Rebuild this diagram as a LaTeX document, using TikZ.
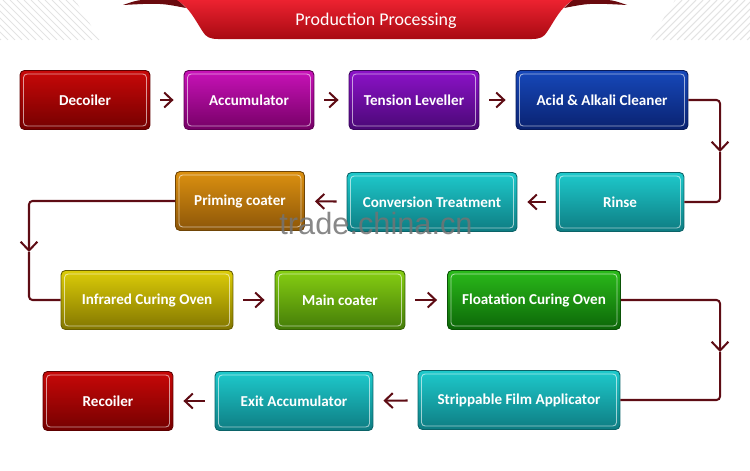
\documentclass[tikz,border=0pt]{standalone}
\usepackage{fontspec}
\setmainfont{Carlito}
\newfontfamily\markfont{Liberation Sans}
\usetikzlibrary{arrows.meta, positioning}
\definecolor{linkred}{HTML}{5E0C14}
\definecolor{bannertop}{HTML}{EC2230}
\definecolor{bannerbot}{HTML}{A80A12}
\definecolor{tailred}{HTML}{6A0A0E}
\definecolor{redtop}{HTML}{C80808}
\definecolor{redbot}{HTML}{740000}
\definecolor{magtop}{HTML}{C812B8}
\definecolor{magbot}{HTML}{760066}
\definecolor{purtop}{HTML}{8C12C8}
\definecolor{purbot}{HTML}{4A0876}
\definecolor{blutop}{HTML}{1648BA}
\definecolor{blubot}{HTML}{0A2270}
\definecolor{teatop}{HTML}{1ECACC}
\definecolor{teabot}{HTML}{0E7C82}
\definecolor{orntop}{HTML}{DC9010}
\definecolor{ornbot}{HTML}{8C5608}
\definecolor{olvtop}{HTML}{DCCC08}
\definecolor{olvbot}{HTML}{827600}
\definecolor{limtop}{HTML}{86CE12}
\definecolor{limbot}{HTML}{447C08}
\definecolor{grntop}{HTML}{2ABA1A}
\definecolor{grnbot}{HTML}{0C6608}
\tikzset{
  proc_box/.style 2 args={rectangle, rounded corners=2.5pt, minimum height=1.18cm, inner sep=0pt,
    top color=#1, bottom color=#2, draw=#2!80!black, line width=0.5pt, text=white,
    font=\fontsize{8.6}{10}\selectfont\bfseries,
    path picture={\draw[white, opacity=0.6, line width=0.5pt, rounded corners=2pt]
      ([shift={(2pt,2pt)}]path picture bounding box.south west) rectangle
      ([shift={(-2pt,-2pt)}]path picture bounding box.north east);}},
  box_red/.style={proc_box={redtop}{redbot}},
  box_magenta/.style={proc_box={magtop}{magbot}},
  box_purple/.style={proc_box={purtop}{purbot}},
  box_blue/.style={proc_box={blutop}{blubot}},
  box_teal/.style={proc_box={teatop}{teabot}},
  box_orange/.style={proc_box={orntop}{ornbot}},
  box_olive/.style={proc_box={olvtop}{olvbot}},
  box_lime/.style={proc_box={limtop}{limbot}},
  box_green/.style={proc_box={grntop}{grnbot}},
  flow/.style={-{Straight Barb[length=4.5pt,width=8.5pt]}, line width=1.15pt, draw=linkred,
    shorten <=0.2cm, shorten >=0.2cm},
  link/.style={line width=1.15pt, draw=linkred, rounded corners=2pt},
  link_tip/.style={link, -{Straight Barb[length=5pt,width=9.5pt]}},
  hatch/.style={gray!22, line width=0.6pt},
  title_text/.style={text=white, font=\fontsize{10.2}{12}\selectfont}
}

\begin{document}
\begin{tikzpicture}[x=0.02cm, y=-0.02cm]
  \useasboundingbox (0,0) rectangle (750,470);

  % Corner hatching
  \begin{scope}
    \clip (0,0) -- (75,0) -- (100,40) -- (0,40) -- cycle;
    \foreach \i in {-60,-53,...,110} \draw[hatch] (\i,0) -- (\i+40,40);
  \end{scope}
  \begin{scope}
    \clip (675,0) -- (750,0) -- (750,40) -- (650,40) -- cycle;
    \foreach \i in {640,647,...,810} \draw[hatch] (\i,0) -- (\i-40,40);
  \end{scope}

  % Title ribbon
  \fill[tailred] (123,5) .. controls (140,-1) .. (178,0) -- (186,8) .. controls (160,3) .. (123,5);
  \fill[tailred] (627,5) .. controls (610,-1) .. (572,0) -- (564,8) .. controls (590,3) .. (627,5);
  \shade[top color=bannertop, bottom color=bannerbot]
    (177,0) .. controls (190,8) and (195,20) .. (203,32) .. controls (206,37) and (210,39) .. (218,39)
    -- (532,39) .. controls (540,39) and (544,37) .. (547,32)
    .. controls (555,20) and (560,8) .. (573,0) -- cycle;
  \node[title_text] (title) at (376,21) {Production Processing};

  % Row 1
  \node[box_red, minimum width=2.6cm] (decoiler) at (85,100) {Decoiler};
  \node[box_magenta, minimum width=2.6cm] (accum) at (249,100) {Accumulator};
  \node[box_purple, minimum width=2.6cm] (tension) at (414,100) {Tension Leveller};
  \node[box_blue, minimum width=3.44cm] (acid) at (602,100) {Acid \& Alkali Cleaner};

  % Row 2
  \node[box_teal, minimum width=2.56cm] (rinse) at (620,202) {Rinse};
  \node[box_teal, minimum width=3.4cm] (conversion) at (432,202) {Conversion Treatment};
  \node[box_orange, minimum width=2.58cm] (priming) at (240,201) {Priming coater};

  % Row 3
  \node[box_olive, minimum width=3.44cm] (infrared) at (147,300) {Infrared Curing Oven};
  \node[box_lime, minimum width=2.6cm] (maincoat) at (340,300) {Main coater};
  \node[box_green, minimum width=3.46cm] (floatation) at (534,300) {Floatation Curing Oven};

  % Row 4
  \node[box_teal, minimum width=4.04cm] (strip) at (519,400) {Strippable Film Applicator};
  \node[box_teal, minimum width=3.16cm] (exitacc) at (294,401) {Exit Accumulator};
  \node[box_red, minimum width=2.6cm] (recoiler) at (108,401) {Recoiler};

  % Short arrows between boxes
  \draw[flow] (decoiler) -- (accum);
  \draw[flow] (accum) -- (tension);
  \draw[flow] (tension) -- (acid);
  \draw[flow] (rinse) -- (conversion);
  \draw[flow] (conversion) -- (priming);
  \draw[flow] (infrared) -- (maincoat);
  \draw[flow] (maincoat) -- (floatation);
  \draw[flow] (strip) -- (exitacc);
  \draw[flow] (exitacc) -- (recoiler);

  % Turn-around connectors
  \coordinate (turn_a) at (720,152);
  \coordinate (turn_b) at (29,252);
  \coordinate (turn_c) at (720,352);
  \draw[link_tip] (acid.east) -| (turn_a);
  \draw[link] (turn_a) |- (rinse.east);
  \draw[link_tip] (priming.west) -| (turn_b);
  \draw[link] (turn_b) |- (infrared.west);
  \draw[link_tip] (floatation.east) -| (turn_c);
  \draw[link] (turn_c) |- (strip.east);

  % Watermark
  \node[text=gray!90!black, opacity=0.85, font=\markfont\fontsize{17.5}{20}\selectfont] (mark) at (376,224) {trade.china.cn};
\end{tikzpicture}
\end{document}
